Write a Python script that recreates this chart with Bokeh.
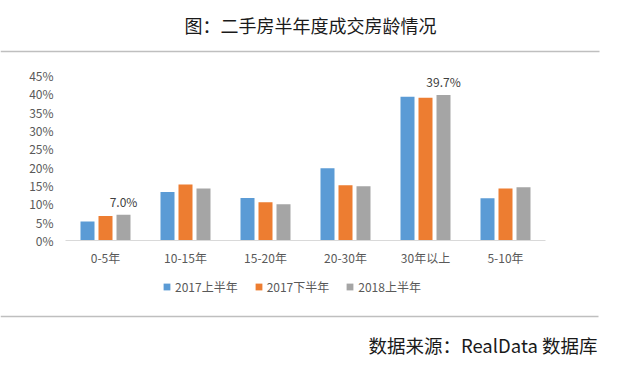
from bokeh.plotting import figure
from bokeh.models import (ColumnDataSource, FactorRange, Range1d, FixedTicker,
                          NumeralTickFormatter, Legend, LegendItem)
from bokeh.layouts import column
from bokeh.transform import dodge
from bokeh.core.properties import value
from bokeh.embed import file_html
from bokeh.resources import INLINE

# ---- data ----
categories = ["0-5年", "10-15年", "15-20年", "20-30年", "30年以上", "5-10年"]
series_names = ["2017上半年", "2017下半年", "2018上半年"]
h1_2017 = [0.052, 0.132, 0.116, 0.197, 0.392, 0.115]
h2_2017 = [0.067, 0.153, 0.104, 0.151, 0.389, 0.142]
h1_2018 = [0.070, 0.142, 0.099, 0.148, 0.397, 0.145]
labelled = ["0-5年", "30年以上"]
y_ticks = [0, 0.05, 0.10, 0.15, 0.20, 0.25, 0.30, 0.35, 0.40, 0.45]
colors = ["#5B9BD5", "#ED7D31", "#A5A5A5"]

title_text = "图：二手房半年度成交房龄情况"
source_text = "数据来源：RealData 数据库"

FONT = "Noto Sans CJK SC"
W = 617

src = ColumnDataSource(dict(cat=categories, a=h1_2017, b=h2_2017, c=h1_2018))


def blank(h):
    f = figure(width=W, height=h, x_range=Range1d(0, W), y_range=Range1d(0, h),
               output_backend="svg", toolbar_location=None, min_border=0)
    f.axis.visible = False
    f.grid.visible = False
    f.outline_line_color = None
    return f


# ---- header ----
hdr = blank(60)
hdr.text(x=[310], y=[36], text=[title_text], text_font=value(FONT),
         text_font_size="18px", text_color="#1a1a1a",
         text_align="center", text_baseline="middle")
hdr.segment(x0=[0], y0=[9], x1=[599], y1=[9], line_color="#bfbfbf", line_width=1.5)

# ---- main chart ----
p = figure(width=W, height=210, x_range=FactorRange(*categories),
           y_range=Range1d(0, 0.48), output_backend="svg", toolbar_location=None,
           min_border_left=65, min_border_right=72, min_border_top=4,
           min_border_bottom=30)
p.outline_line_color = None
p.grid.visible = False

bw = 0.175
off = 0.225
p.vbar(x=dodge("cat", -off, range=p.x_range), top="a", width=bw, source=src,
       fill_color=colors[0], line_color=None)
p.vbar(x=dodge("cat", 0, range=p.x_range), top="b", width=bw, source=src,
       fill_color=colors[1], line_color=None)
p.vbar(x=dodge("cat", off, range=p.x_range), top="c", width=bw, source=src,
       fill_color=colors[2], line_color=None)

lab_idx = [categories.index(c) for c in labelled]
lab_src = ColumnDataSource(dict(
    cat=[categories[i] for i in lab_idx],
    y=[h1_2018[i] for i in lab_idx],
    t=["{:.1f}%".format(h1_2018[i] * 100) for i in lab_idx]))
p.text(x=dodge("cat", off, range=p.x_range), y="y", text="t", source=lab_src,
       text_font=value(FONT), text_font_size="12px", text_color="#404040",
       text_align="center", text_baseline="bottom", y_offset=-5)

p.yaxis.ticker = FixedTicker(ticks=y_ticks)
p.yaxis.formatter = NumeralTickFormatter(format="0%")
p.yaxis.axis_line_color = None
p.yaxis.major_label_standoff = 12
p.xaxis.axis_line_color = "#d9d9d9"
p.xaxis.axis_line_width = 1
p.xaxis.major_label_standoff = 8
for ax in (p.xaxis, p.yaxis):
    ax.major_tick_line_color = None
    ax.minor_tick_line_color = None
    ax.major_tick_out = 0
    ax.major_tick_in = 0
    ax.minor_tick_out = 0
    ax.minor_tick_in = 0
    ax.major_label_text_font = FONT
    ax.major_label_text_font_size = "12px"
    ax.major_label_text_color = "#595959"

# ---- footer (legend, rule, source) ----
ftr = blank(100)
proxy = ColumnDataSource(dict(x=[float("nan")], y=[float("nan")]))
lr = [ftr.scatter(x="x", y="y", marker="square", size=7, source=proxy,
                  fill_color=c, line_color=None)
      for c in colors]
legend = Legend(items=[LegendItem(label=n, renderers=[r]) for n, r in zip(series_names, lr)],
                orientation="horizontal", location=(158, 75),
                glyph_width=17, glyph_height=17, label_height=17, label_standoff=0,
                spacing=12, label_text_font=FONT, label_text_font_size="12px",
                label_text_color="#595959", border_line_color=None,
                background_fill_alpha=0, padding=0, margin=0)
ftr.add_layout(legend)
ftr.segment(x0=[0], y0=[54], x1=[598], y1=[54], line_color="#bfbfbf", line_width=1.5)
ftr.text(x=[597], y=[26], text=[source_text], text_font=value(FONT),
         text_font_size="18.5px", text_color="#1a1a1a",
         text_align="right", text_baseline="middle")

layout = column(column(hdr), p, column(ftr), spacing=0)
open("out.html", "w").write(file_html(layout, INLINE))
